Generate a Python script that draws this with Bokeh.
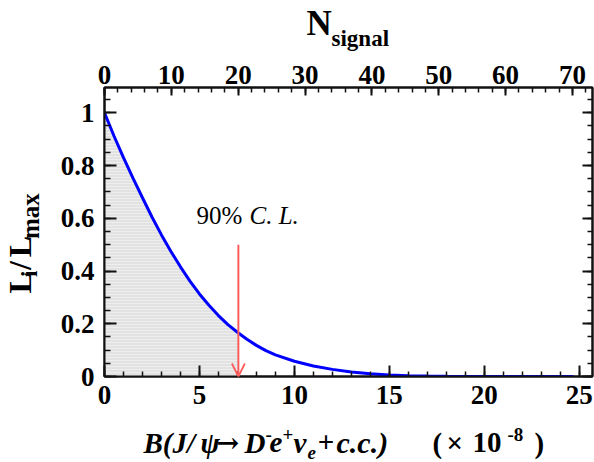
import math
from bokeh.plotting import figure
from bokeh.layouts import column, row
from bokeh.models import (Range1d, LinearAxis, Label, Arrow, OpenHead,
                          SingleIntervalTicker, CustomJSTickFormatter)
from bokeh.embed import file_html
from bokeh.resources import INLINE

# ---- data ----
B_values = [0, 0.5, 1, 1.5, 2, 2.5, 3, 3.5, 4, 4.5, 5, 5.5, 6, 6.5, 7.05,
            7.5, 8, 8.5, 9, 10, 11, 12, 13, 14, 15, 16, 17, 18, 20, 22, 24.7]
L_ratio = [1.0, 0.912, 0.830, 0.752, 0.678, 0.605, 0.537, 0.474, 0.416, 0.362,
           0.313, 0.270, 0.231, 0.197, 0.165, 0.141, 0.118, 0.098, 0.082, 0.058,
           0.040, 0.027, 0.017, 0.010, 0.006, 0.003, 0.0015, 0.0008, 0.0002, 0.0, 0.0]
upper_limit = 7.05          # 90% C.L. position (x10^-8)
arrow_top = 0.5
x_max = 25.7
y_max = 1.096
n_max = 73.0

# ---- geometry (canvas px) ----
W, H = 594, 462
TOP_H = 52            # strip with the N_signal title
BOT_Y = 418           # strip with the x title starts here
LEFT_W = 52           # strip with the y title
FL, FR, FT, FB = 104, 592, 87, 376   # plot frame edges on the canvas
MID = 0.34            # baseline offset of a "middle" anchored text, in em

MAIN_W = W - LEFT_W
MAIN_H = BOT_Y - TOP_H

def dx(px):
    return (px - FL) / (FR - FL) * x_max

def dy(py):
    return (FB - py) / (FB - FT) * y_max

p = figure(width=MAIN_W, height=MAIN_H, x_range=Range1d(0, x_max), y_range=Range1d(0, y_max),
           output_backend="svg", toolbar_location=None,
           min_border_left=FL - LEFT_W, min_border_right=W - FR,
           min_border_top=FT - TOP_H, min_border_bottom=BOT_Y - FB)
p.xgrid.visible = False
p.ygrid.visible = False
p.outline_line_color = "#111111"
p.outline_line_width = 2
p.border_fill_color = "white"
p.extra_x_ranges = {"n": Range1d(0, n_max)}

def style_axis(ax, maj_in=11, min_in=5):
    ax.major_tick_in = maj_in
    ax.major_tick_out = 0
    ax.minor_tick_in = min_in
    ax.minor_tick_out = 0
    ax.axis_line_color = "#111111"
    ax.axis_line_width = 2
    ax.major_tick_line_color = "#111111"
    ax.major_tick_line_width = 2
    ax.minor_tick_line_color = "#111111"
    ax.minor_tick_line_width = 1.5
    ax.major_label_text_font = "Liberation Serif"
    ax.major_label_text_font_style = "bold"
    ax.major_label_text_font_size = "27px"
    ax.major_label_text_color = "black"

xa = p.xaxis[0]
xa.ticker = SingleIntervalTicker(interval=5, num_minor_ticks=5)
style_axis(xa)
xa.major_label_standoff = 9

ya = p.yaxis[0]
ya.ticker = SingleIntervalTicker(interval=0.2, num_minor_ticks=4)
ya.formatter = CustomJSTickFormatter(code="""
    if (Math.abs(tick) < 1e-9) return "0";
    if (Math.abs(tick - 1) < 1e-9) return "1";
    return tick.toFixed(1);
""")
style_axis(ya, 12, 6)
ya.major_label_standoff = 10

top = LinearAxis(x_range_name="n", ticker=SingleIntervalTicker(interval=10, num_minor_ticks=5))
style_axis(top, 8, 5)
top.major_label_standoff = 4
p.add_layout(top, "above")

right = LinearAxis(ticker=SingleIntervalTicker(interval=0.2, num_minor_ticks=4),
                   formatter=CustomJSTickFormatter(code="return '';"))
style_axis(right, 10, 5)
right.major_label_standoff = 0
p.add_layout(right, "right")

# ---- shaded region and curve ----
shade_x = [b for b in B_values if b <= upper_limit]
shade_y = L_ratio[:len(shade_x)]
p.varea(x=shade_x, y1=[0] * len(shade_x), y2=shade_y, fill_color="#e2e2e2",
        hatch_pattern="horizontal_line", hatch_color="white", hatch_alpha=0.4,
        hatch_scale=3, hatch_weight=1)
p.line(B_values, L_ratio, line_color="#0000ff", line_width=3)

# ---- arrow ----
p.add_layout(Arrow(end=OpenHead(size=13, line_color="#ff5c5c", line_width=1.8),
                   x_start=upper_limit, y_start=arrow_top, x_end=upper_limit, y_end=0,
                   line_color="#ff5c5c", line_width=2))

def cl_label(text, px, py, size, style):
    p.add_layout(Label(x=dx(px), y=dy(py - MID * size), text=text, text_font="Liberation Serif",
                       text_font_size=f"{size}px", text_font_style=style, text_color="black",
                       text_align="left", text_baseline="middle"))

cl_label("90% ", 196, 223, 25, "normal")
cl_label("C. L.", 249, 223, 25, "italic")

# ---- strips holding the axis titles (text drawn inside their own frames) ----
def strip(w, h):
    f = figure(width=w, height=h, x_range=Range1d(0, w), y_range=Range1d(0, h),
               output_backend="svg", toolbar_location=None, min_border=0,
               x_axis_type=None, y_axis_type=None)
    f.outline_line_color = None
    f.border_fill_color = "white"
    f.background_fill_color = "white"
    return f

def put(f, x0, y0, text, px, py, size, style="bold", rotated=False, font="Liberation Serif"):
    h = f.height
    if rotated:
        ax, ay, angle = px - MID * size - 4, py + 15, math.pi / 2
    else:
        ax, ay, angle = px, py - MID * size, 0.0
    f.add_layout(Label(x=ax - x0, y=h - (ay - y0), text=text, text_font=font,
                       text_font_size=f"{size}px", text_font_style=style,
                       text_color="black", text_align="left",
                       text_baseline="middle", angle=angle))

top_strip = strip(W, TOP_H)
put(top_strip, 0, 0, "N", 306, 35, 35)
put(top_strip, 0, 0, "signal", 331, 46, 23)

left_strip = strip(LEFT_W, MAIN_H)
put(left_strip, 0, TOP_H, "L", 34, 298, 32, rotated=True)
put(left_strip, 0, TOP_H, "i", 41, 277, 23, rotated=True)
put(left_strip, 0, TOP_H, "/", 34, 268, 32, rotated=True)
put(left_strip, 0, TOP_H, "L", 34, 252, 32, rotated=True)
put(left_strip, 0, TOP_H, "max", 42, 229, 25, rotated=True)

bot_strip = strip(W, H - BOT_Y)
bi = "bold italic"
xt = [("B(J/", 143, 452, 29, bi), ("\u03c8", 200, 452, 29, bi),
      ("-", 265, 440, 19, "bold"), ("D", 244, 452, 29, bi), ("e", 269, 452, 29, bi),
      ("+", 282, 440, 19, "bold"), ("\u03bd", 293, 452, 29, bi),
      ("e", 307, 458, 19, bi), ("+", 317, 452, 29, bi),
      ("c.c.)", 336, 452, 30, bi),
      ("(", 432, 452, 29, "bold"), ("\u00d7", 446, 452, 29, "bold"),
      ("10", 472, 452, 29, "bold"), ("-8", 507, 440, 19, "bold"),
      (")", 534, 452, 29, "bold")]
for t, px, py, s, st in xt:
    put(bot_strip, 0, BOT_Y, t, px, py, s, st)
put(bot_strip, 0, BOT_Y, "\u2192", 216, 451, 27, "bold", font="DejaVu Serif")

layout = column(top_strip, row(left_strip, p, spacing=0), bot_strip, spacing=0)
open("out.html", "w").write(file_html(layout, INLINE))
